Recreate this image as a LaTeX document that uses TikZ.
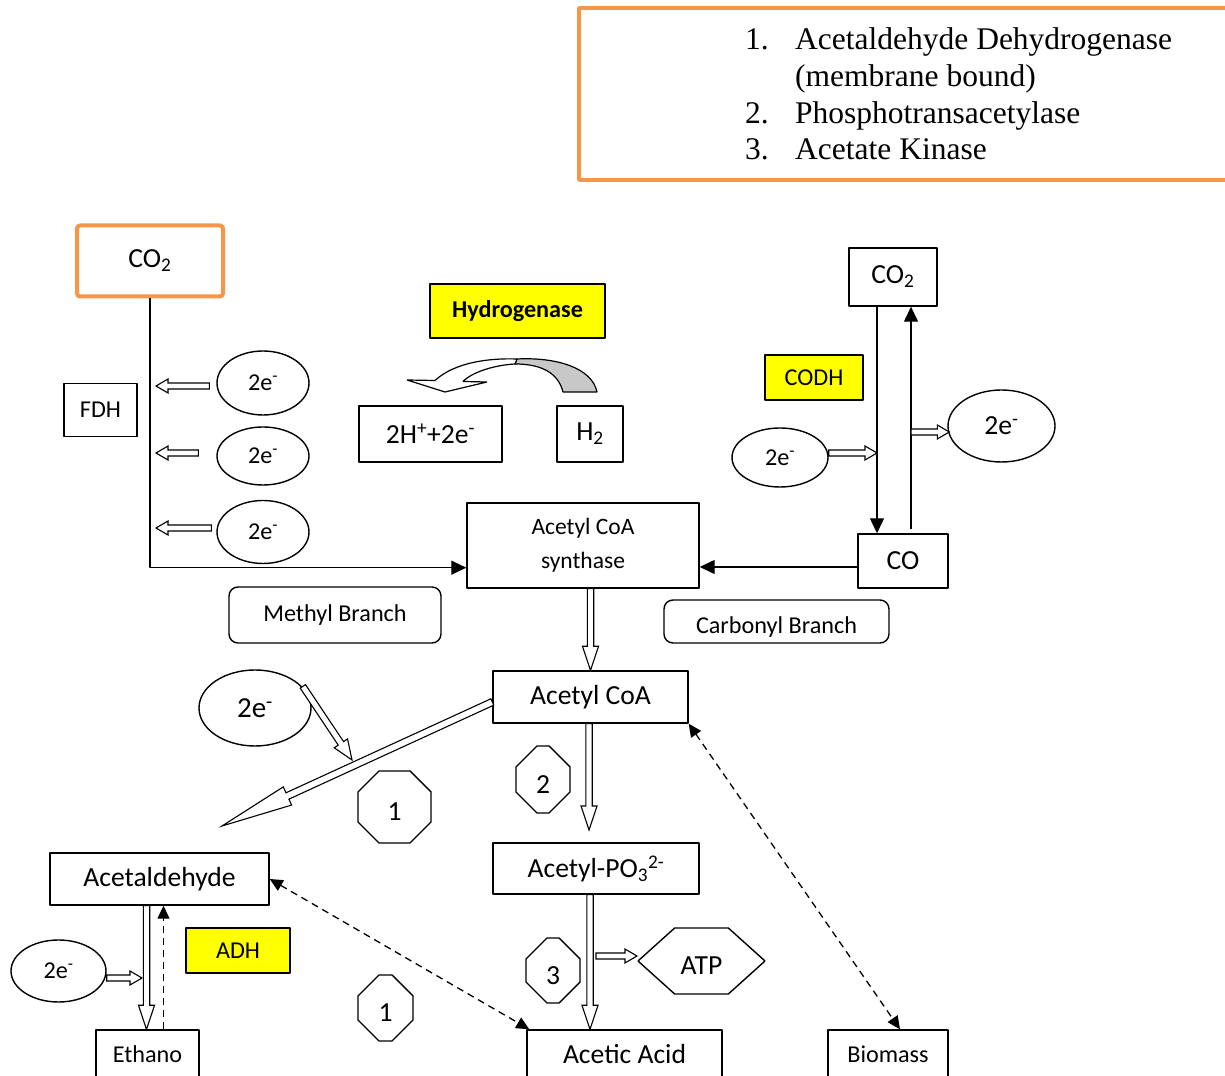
\documentclass[tikz,border=0pt]{standalone}
\usepackage{fontspec}
\setmainfont{Carlito}
\newfontfamily\legendfont{Liberation Serif}
\usetikzlibrary{arrows.meta,calc,shapes.geometric,shapes.misc,shapes.symbols}
\newcommand\medtxt{\fontsize{24.2bp}{29bp}\selectfont}
\newcommand\bigtxt{\fontsize{27.6bp}{33bp}\selectfont}
\definecolor{boxorange}{RGB}{247,150,70}
\definecolor{enzyellow}{RGB}{255,255,0}
\definecolor{arrowgray}{RGB}{200,200,200}
% outlined block arrow: start, end, shaft half width, head length, head half width
\newcommand\blockarrow[5]{%
  \coordinate (ba_s) at #1;
  \coordinate (ba_e) at #2;
  \coordinate (ba_h) at ($(ba_e)!#4!(ba_s)$);
  \draw[hollowarrow] ($(ba_s)!#3!90:(ba_e)$) -- ($(ba_h)!#3!90:(ba_e)$) -- ($(ba_h)!#5!90:(ba_e)$)
    -- (ba_e) -- ($(ba_h)!#5!-90:(ba_e)$) -- ($(ba_h)!#3!-90:(ba_e)$) -- ($(ba_s)!#3!-90:(ba_e)$) -- cycle;
}
\begin{document}
\begin{tikzpicture}[>={Triangle[length=15bp,width=14bp]},line join=bevel,
  box/.style={draw,line width=1.4bp,inner sep=0pt,font=\medtxt},
  bigbox/.style={box,font=\bigtxt},
  orangebox/.style={draw=boxorange,line width=4bp,rounded corners=3bp,inner sep=0pt,font=\bigtxt},
  enzyme/.style={box,fill=enzyellow},
  branch/.style={box,rounded corners=9bp},
  elec/.style={draw,line width=1.4bp,ellipse,inner sep=0pt,font=\medtxt},
  octnum/.style={draw,line width=1.4bp,chamfered rectangle,chamfered rectangle xsep=15bp,chamfered rectangle ysep=17bp,inner sep=0pt,text height=28bp,text depth=0bp,font=\bigtxt},
  legendtxt/.style={anchor=base west,inner sep=0pt,font=\legendfont\fontsize{31.5bp}{37bp}\selectfont},
  plainline/.style={line width=1.3bp},
  hollowarrow/.style={draw,fill=white,line width=1.1bp,line join=miter},
  dasharrow/.style={line width=1.3bp,dash pattern=on 7bp off 5bp,{Triangle[length=13bp,width=12bp]}-{Triangle[length=13bp,width=12bp]}},
]
\useasboundingbox (0,0) rectangle (1225bp,1076bp);
\clip (0,0) rectangle (1225bp,1076bp);
%% legend
\node (legend_box) at (907bp,982bp) [draw=boxorange,line width=4bp,minimum width=656bp,minimum height=172bp] {};
\node (legend_1) at (745bp,1026bp) [legendtxt] {\makebox[50bp][l]{1.}Acetaldehyde Dehydrogenase};
\node (legend_1b) at (795bp,989bp) [legendtxt] {(membrane bound)};
\node (legend_2) at (745bp,952bp) [legendtxt] {\makebox[50bp][l]{2.}Phosphotransacetylase};
\node (legend_3) at (745bp,916bp) [legendtxt] {\makebox[50bp][l]{3.}Acetate Kinase};
%% methyl branch
\node (co2_left) at (150bp,815bp) [orangebox,minimum width=146bp,minimum height=71bp] {CO\textsubscript{2}};
\node (fdh) at (100.5bp,666bp) [box,minimum width=73bp,minimum height=53bp] {FDH};
\node (e_one) at (263bp,693bp) [elec,minimum width=92bp,minimum height=64bp] {2e\textsuperscript{-}};
\node (e_two) at (263bp,620bp) [elec,minimum width=92bp,minimum height=58bp] {2e\textsuperscript{-}};
\node (e_three) at (263bp,544bp) [elec,minimum width=92bp,minimum height=63bp] {2e\textsuperscript{-}};
\node (methyl) at (335bp,461bp) [branch,minimum width=212bp,minimum height=56bp] {Methyl Branch};
%% hydrogenase
\node (hydrogenase) at (517.5bp,765bp) [enzyme,minimum width=175bp,minimum height=54bp,font=\medtxt\bfseries] {Hydrogenase};
\node (h_plus) at (430.5bp,642bp) [bigbox,minimum width=143bp,minimum height=56bp] {2H\textsuperscript{+}+2e\textsuperscript{-}};
\node (h_two) at (590bp,642bp) [bigbox,minimum width=66bp,minimum height=56bp] {H\textsubscript{2}};
%% carbonyl branch
\node (codh) at (814bp,698.5bp) [enzyme,minimum width=98bp,minimum height=45bp] {CODH};
\node (co2_right) at (893bp,799bp) [bigbox,minimum width=88bp,minimum height=58bp] {CO\textsubscript{2}};
\node (co) at (903bp,515bp) [bigbox,minimum width=90bp,minimum height=54bp] {CO};
\node (e_four) at (780bp,618.5bp) [elec,minimum width=96bp,minimum height=59bp] {2e\textsuperscript{-}};
\node (e_five) at (1001.5bp,650bp) [elec,minimum width=107bp,minimum height=72bp,font=\bigtxt] {2e\textsuperscript{-}};
\node (carbonyl) at (776.5bp,454.5bp) [branch,minimum width=225bp,minimum height=43bp,text height=24bp,text depth=0bp] {Carbonyl Branch};
%% products
\node (acs) at (583bp,530.5bp) [box,minimum width=232bp,minimum height=85bp,align=center,font=\fontsize{23.5bp}{34bp}\selectfont] {Acetyl CoA\\synthase};
\node (acoa) at (590.5bp,379bp) [bigbox,minimum width=195bp,minimum height=52bp] {Acetyl CoA};
\node (e_six) at (255bp,368bp) [elec,minimum width=112bp,minimum height=76bp,font=\fontsize{29bp}{34bp}\selectfont] {2e\textsuperscript{-}};
\node (enz_2) at (543bp,296.5bp) [octnum,minimum width=54bp,minimum height=67bp] {2};
\node (enz_1a) at (394.5bp,269bp) [octnum,chamfered rectangle xsep=21bp,chamfered rectangle ysep=21bp,minimum width=73bp,minimum height=72bp] {1};
\node (ald) at (159.5bp,197bp) [bigbox,minimum width=219bp,minimum height=52bp] {Acetaldehyde};
\node (pta) at (596bp,207.5bp) [bigbox,minimum width=206bp,minimum height=51bp] {Acetyl-PO\textsubscript{3}\textsuperscript{2-}};
\node (enz_3) at (553bp,105.5bp) [octnum,minimum width=54bp,minimum height=65bp] {3};
\node (atp) at (701.5bp,115bp) [draw,line width=1.4bp,signal,signal to=west and east,signal pointer angle=84,minimum width=127bp,minimum height=66bp,inner sep=0pt,text height=28bp,text depth=0bp,font=\bigtxt] {ATP};
\node (acid) at (624.5bp,22bp) [bigbox,minimum width=195bp,minimum height=48bp] {Acetic Acid};
\node (biomass) at (888bp,22bp) [box,minimum width=120bp,minimum height=48bp] {Biomass};
\node (enz_1b) at (385.5bp,68bp) [octnum,minimum width=55bp,minimum height=66bp] {1};
\node (ethano) at (147.5bp,22bp) [box,minimum width=103bp,minimum height=48bp] {Ethano};
\node (adh) at (238bp,125.5bp) [enzyme,minimum width=104bp,minimum height=45bp] {ADH};
\node (e_seven) at (58.5bp,105bp) [elec,minimum width=95bp,minimum height=62bp] {2e\textsuperscript{-}};
%% curved arrow H2 -> 2H+
\filldraw[fill=arrowgray,line width=1.2bp] (563bp,684bp) .. controls (558bp,704bp) and (540bp,712bp) .. (515bp,712bp) -- (517bp,717bp) .. controls (557bp,719bp) and (592bp,708bp) .. (597bp,684bp) -- cycle;
\filldraw[fill=white,line width=1.2bp] (435bp,695.5bp) .. controls (455bp,714bp) and (490bp,718bp) .. (517bp,717bp) -- (515bp,712bp) .. controls (495bp,711bp) and (472bp,704bp) .. (463bp,694.5bp) -- (487bp,694bp) -- (445bp,684bp) -- (407bp,696bp) -- cycle;
%% connectors
\coordinate (methyl_tip) at ([xshift=6bp]co2_left.south);
\coordinate (codh_down) at ([xshift=-16bp]co2_right.south);
\coordinate (codh_up) at ([xshift=8bp]co.north);
\coordinate (pta_tip) at (589bp,246bp);
\coordinate (ald_tip) at (222bp,250bp);
\coordinate (ald_join) at (352bp,316bp);
\coordinate (eth_line) at ([xshift=-13bp]ald.south);
\coordinate (eth_tip) at ([xshift=-4.5bp]eth_line);
\draw[plainline,->] (co2_left.south) |- ([yshift=21bp]acs.south west);
\blockarrow{([shift={(-7bp,-3bp)}]e_one.west)}{([yshift=-3bp]e_one.west -| methyl_tip)}{3bp}{12bp}{7bp}
\blockarrow{([shift={(-18bp,3bp)}]e_two.west)}{([yshift=3bp]e_two.west -| methyl_tip)}{3bp}{12bp}{7bp}
\blockarrow{([shift={(-5bp,4bp)}]e_three.west)}{([yshift=4bp]e_three.west -| methyl_tip)}{3bp}{12bp}{7bp}
\draw[plainline,->] (codh_down) -- (codh_down |- co.north);
\draw[plainline,->] ([yshift=4bp]codh_up) -- (codh_up |- co2_right.south);
\blockarrow{([yshift=4.5bp]e_four.east)}{([yshift=4.5bp]e_four.east -| codh_down)}{3bp}{12bp}{7bp}
\blockarrow{([yshift=-6bp]e_five.west -| codh_up)}{([shift={(2bp,-6bp)}]e_five.west)}{3bp}{12bp}{7bp}
\draw[plainline,->] ([yshift=-6bp]co.west) -- ([yshift=-6bp]co.west -| acs.east);
\blockarrow{(acs.south -| acoa.north)}{(acoa.north)}{3.2bp}{24bp}{8bp}
\blockarrow{([xshift=-1.5bp]acoa.south)}{(pta_tip)}{3.2bp}{24bp}{8bp}
\blockarrow{([yshift=-5bp]acoa.west)}{(ald_tip)}{3.5bp}{72bp}{10bp}
\blockarrow{($(e_six.18)!-6bp!(ald_join)$)}{(ald_join)}{3.2bp}{20bp}{8bp}
\draw[dasharrow] (ald.east) -- ([xshift=3bp]acid.north west);
\blockarrow{([xshift=-6bp]pta.south)}{([xshift=-6bp]pta.south |- acid.north)}{3.2bp}{24bp}{8bp}
\blockarrow{([yshift=5bp]atp.west -| pta.south)}{([yshift=5bp]atp.west)}{3bp}{12bp}{7bp}
\draw[dasharrow] (acoa.south east) -- ([xshift=12bp]biomass.north);
\blockarrow{(eth_line)}{(eth_line |- ethano.north)}{3.2bp}{24bp}{8bp}
\draw[plainline,dash pattern=on 7bp off 5bp,-{Triangle[length=13bp,width=12bp]}] ([xshift=16bp]ethano.north) -- ([xshift=16bp]ethano.north |- ald.south);
\blockarrow{([yshift=-7bp]e_seven.east)}{([yshift=-7bp]e_seven.east -| eth_tip)}{3bp}{12bp}{7bp}
%
\end{tikzpicture}
\end{document}
